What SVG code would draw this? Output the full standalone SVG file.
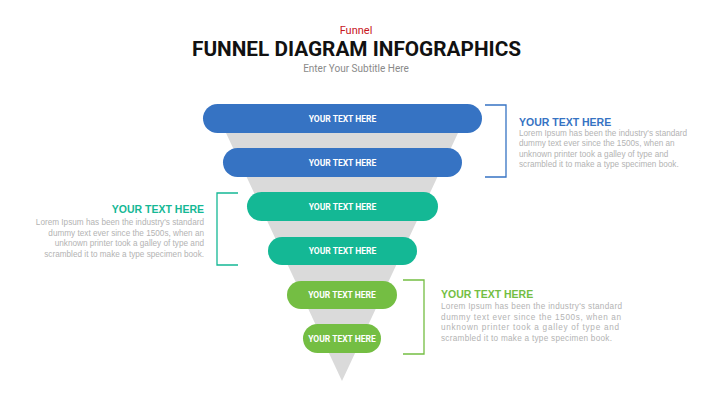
<svg xmlns="http://www.w3.org/2000/svg" width="713" height="401" viewBox="0 0 713 401">
<style>
.bar-t{font-family:Roboto,"Liberation Sans",sans-serif;font-weight:bold;font-size:8.5px;fill:#ffffff;text-anchor:middle}
.hd{font-family:"Liberation Sans",Arial,sans-serif;font-weight:bold;font-size:10.5px}
.body{font-family:"Liberation Sans",Arial,sans-serif;font-size:8.2px;fill:#b3b3b3}
.br{fill:none;stroke-width:1.3}
.blue{fill:#3673c3}
.teal{fill:#14b895}
.green{fill:#74be43}
</style>
<rect width="713" height="401" fill="#ffffff"/>
<g id="title">
<text x="356" y="34" font-family="Roboto,'Liberation Sans',sans-serif" font-size="11" fill="#c8161d" text-anchor="middle">Funnel</text>
<text x="192" y="56" font-family="Roboto,'Liberation Sans',sans-serif" font-size="20" font-weight="bold" fill="#111111" textLength="329" lengthAdjust="spacingAndGlyphs">FUNNEL DIAGRAM INFOGRAPHICS</text>
<text x="356" y="72" font-family="Roboto,'Liberation Sans',sans-serif" font-size="10" fill="#8a8a8a" text-anchor="middle">Enter Your Subtitle Here</text>
</g>
<g id="funnel">
<polygon points="219,118 465,118 342,381" fill="#dadada"/>
</g>
<g id="bar1"><rect class="blue" x="203" y="104" width="279" height="29" rx="14.5"/><text class="bar-t" x="342.5" y="121.5">YOUR TEXT HERE</text></g>
<g id="bar2"><rect class="blue" x="223" y="148" width="239" height="29" rx="14.5"/><text class="bar-t" x="342.5" y="165.5">YOUR TEXT HERE</text></g>
<g id="bar3"><rect class="teal" x="247" y="192" width="191" height="29" rx="14.5"/><text class="bar-t" x="342.5" y="209.5">YOUR TEXT HERE</text></g>
<g id="bar4"><rect class="teal" x="268" y="237" width="149" height="28" rx="14"/><text class="bar-t" x="342.5" y="254">YOUR TEXT HERE</text></g>
<g id="bar5"><rect class="green" x="287" y="281" width="110" height="28" rx="14"/><text class="bar-t" x="342" y="298">YOUR TEXT HERE</text></g>
<g id="bar6"><rect class="green" x="303" y="324" width="78" height="29" rx="14.5"/><text class="bar-t" x="342" y="341.5">YOUR TEXT HERE</text></g>
<g id="connectors">
<polyline class="br" stroke="#3673c3" points="485,105 506,105 506,177 485,177"/>
<polyline class="br" stroke="#14b895" points="238,193 217,193 217,265 238,265"/>
<polyline class="br" stroke="#74be43" points="403,280 424,280 424,354 403,354"/>
</g>
<g id="note1">
<text class="hd" x="519" y="126" fill="#3673c3">YOUR TEXT HERE</text>
<text class="body" x="519" y="135.5">Lorem Ipsum has been the industry's standard</text>
<text class="body" x="519" y="146">dummy text ever since the 1500s, when an</text>
<text class="body" x="519" y="156.5">unknown printer took a galley of type and</text>
<text class="body" x="519" y="167">scrambled it to make a type specimen book.</text>
</g>
<g id="note2">
<text class="hd" x="204" y="213" fill="#14b895" text-anchor="end">YOUR TEXT HERE</text>
<text class="body" x="204" y="225" text-anchor="end">Lorem Ipsum has been the industry's standard</text>
<text class="body" x="204" y="235.5" text-anchor="end">dummy text ever since the 1500s, when an</text>
<text class="body" x="204" y="246" text-anchor="end">unknown printer took a galley of type and</text>
<text class="body" x="204" y="256.5" text-anchor="end">scrambled it to make a type specimen book.</text>
</g>
<g id="note3">
<text class="hd" x="441" y="298" fill="#74be43">YOUR TEXT HERE</text>
<text class="body" x="441" y="309" textLength="181" lengthAdjust="spacing">Lorem Ipsum has been the industry's standard</text>
<text class="body" x="441" y="319.5" textLength="180" lengthAdjust="spacing">dummy text ever since the 1500s, when an</text>
<text class="body" x="441" y="330" textLength="178" lengthAdjust="spacing">unknown printer took a galley of type and</text>
<text class="body" x="441" y="340.5" textLength="171" lengthAdjust="spacing">scrambled it to make a type specimen book.</text>
</g>
</svg>
